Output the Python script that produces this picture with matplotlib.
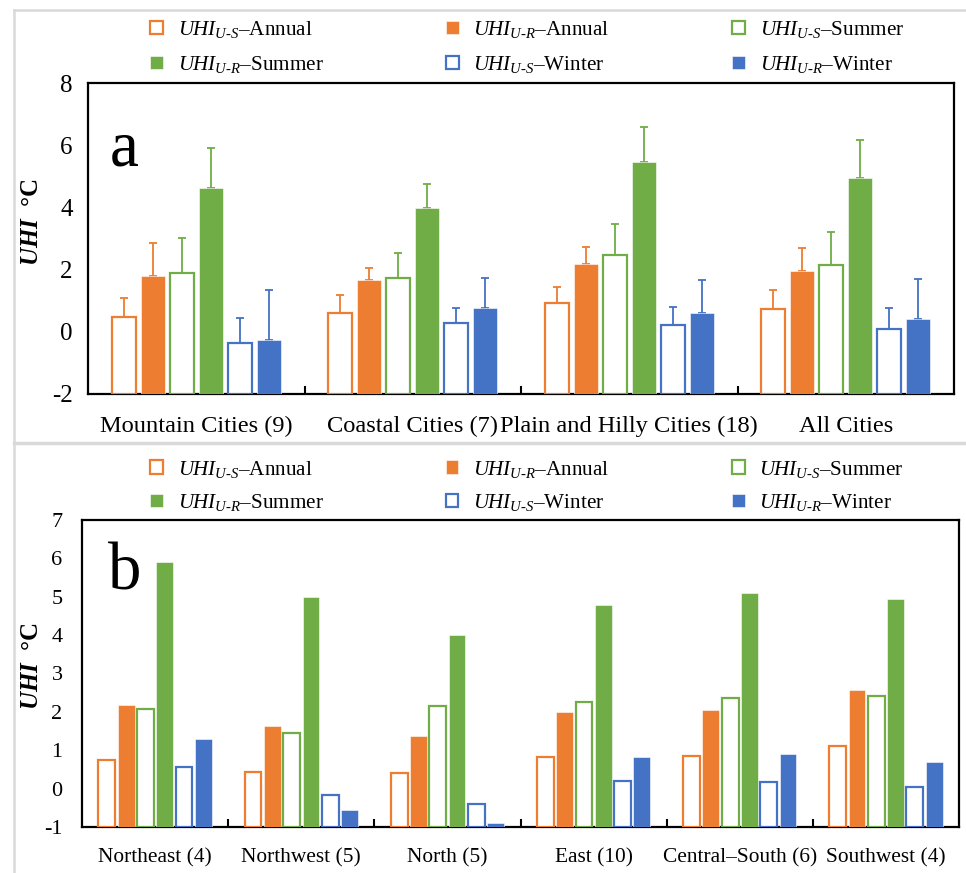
import matplotlib
matplotlib.use('Agg')
import matplotlib.pyplot as plt
from matplotlib.lines import Line2D
import numpy as np

plt.rcParams['font.family'] = ['Liberation Serif', 'DejaVu Serif']
plt.rcParams['mathtext.fontset'] = 'custom'
plt.rcParams['mathtext.rm'] = 'Liberation Serif'
plt.rcParams['mathtext.it'] = 'Liberation Serif:italic'
plt.rcParams['mathtext.bf'] = 'Liberation Serif:bold'
plt.rcParams['mathtext.bfit'] = 'Liberation Serif:bold:italic'
plt.rcParams['axes.unicode_minus'] = False

# ---- data ----
series_labels = [
    r'$UHI_{U\text{-}S}$–Annual', r'$UHI_{U\text{-}R}$–Annual',
    r'$UHI_{U\text{-}S}$–Summer', r'$UHI_{U\text{-}R}$–Summer',
    r'$UHI_{U\text{-}S}$–Winter', r'$UHI_{U\text{-}R}$–Winter',
]

cats_a = ['Mountain Cities (9)', 'Coastal Cities (7)', 'Plain and Hilly Cities (18)', 'All Cities']
# one row per series, one column per category
vals_a = [
    [0.48, 0.59, 0.93, 0.74],
    [1.79, 1.67, 2.17, 1.95],
    [1.90, 1.72, 2.47, 2.15],
    [4.61, 3.99, 5.45, 4.93],
    [-0.35, 0.29, 0.22, 0.08],
    [-0.27, 0.77, 0.60, 0.42],
]
# top of the (one-sided) error bar
errtop_a = [
    [1.09, 1.19, 1.43, 1.34],
    [2.87, 2.04, 2.73, 2.70],
    [3.03, 2.52, 3.46, 3.22],
    [5.90, 4.74, 6.58, 6.17],
    [0.45, 0.75, 0.80, 0.76],
    [1.34, 1.74, 1.66, 1.69],
]

cats_b = ['Northeast (4)', 'Northwest (5)', 'North (5)', 'East (10)', 'Central–South (6)', 'Southwest (4)']
vals_b = [
    [0.74, 0.43, 0.41, 0.82, 0.86, 1.10],
    [2.19, 1.63, 1.36, 2.00, 2.06, 2.58],
    [2.08, 1.45, 2.15, 2.26, 2.36, 2.42],
    [5.90, 4.99, 4.01, 4.78, 5.10, 4.95],
    [0.56, -0.17, -0.39, 0.21, 0.17, 0.03],
    [1.29, -0.55, -0.90, 0.82, 0.89, 0.69],
]

colors = ['#ED7D31', '#ED7D31', '#70AD47', '#70AD47', '#4472C4', '#4472C4']
hollow = [True, False, True, False, True, False]


def draw_bars(ax, cats, vals, errtop=None, width=0.11, pitch=0.134):
    x = np.arange(len(cats))
    y0 = ax.get_ylim()[0]
    handles = []
    for i, v in enumerate(vals):
        pos = x + (i - 2.5) * pitch
        v = np.array(v)
        if hollow[i]:
            h = ax.bar(pos, v - y0, width, bottom=y0,
                       facecolor='white', edgecolor=colors[i], linewidth=1.6, zorder=3)
        else:
            h = ax.bar(pos, v - y0, width, bottom=y0,
                       facecolor=colors[i], edgecolor='white', linewidth=0.4, zorder=3)
        if errtop is not None:
            up = np.array(errtop[i]) - v
            ax.errorbar(pos, v, yerr=[np.zeros_like(up), up], fmt='none',
                        ecolor=colors[i], elinewidth=1.3, capsize=2.7, capthick=1.3, zorder=2)
        handles.append(h)
    ax.set_xlim(-0.5, len(cats) - 0.5)
    ax.set_xticks(x)
    ax.set_xticklabels(cats)
    ax.set_xticks(np.arange(1, len(cats)) - 0.5, minor=True)
    ax.tick_params(axis='x', which='major', length=0)
    ax.tick_params(axis='x', which='minor', direction='in', length=6, width=1.5)
    ax.tick_params(axis='y', length=0)
    for s in ax.spines.values():
        s.set_linewidth(1.6)
    return handles


fig = plt.figure(figsize=(9.66, 8.73), dpi=100)

# panel a
ax_a = fig.add_axes([0.0911, 0.5487, 0.8965, 0.3562])
ax_a.set_ylim(-2, 8)
ax_a.set_yticks(np.arange(-2, 9, 2))
ha = draw_bars(ax_a, cats_a, vals_a, errtop_a)
ax_a.tick_params(axis='x', labelsize=17.6, pad=16)
ax_a.tick_params(axis='y', labelsize=18, pad=11)
ax_a.text(0.025, 0.735, 'a', transform=ax_a.transAxes, fontsize=47, va='baseline')

# panel b
ax_b = fig.add_axes([0.0849, 0.0527, 0.9079, 0.3517])
ax_b.set_ylim(-1, 7)
ax_b.set_yticks(np.arange(-1, 8, 1))
hb = draw_bars(ax_b, cats_b, vals_b, width=0.115, pitch=0.132)
ax_b.tick_params(axis='x', labelsize=15.4, pad=15)
ax_b.tick_params(axis='y', labelsize=16, pad=14)
ax_b.text(0.029, 0.775, 'b', transform=ax_b.transAxes, fontsize=48, va='baseline')

# legends, filled row by row
order = [0, 3, 1, 4, 2, 5]
for ax, hs, x0, y0, ls in [(ax_a, ha, 0.05, 1.268, 0.68), (ax_b, hb, 0.056, 1.262, 0.58)]:
    ax.legend([hs[k] for k in order], [series_labels[k] for k in order], ncol=3,
              loc='upper left', bbox_to_anchor=(x0, y0), frameon=False,
              fontsize=15.2, handlelength=0.6, handleheight=0.6, handletextpad=0.7,
              columnspacing=5.8, labelspacing=ls)

# y labels
fig.text(0.033, 1 - 222 / 873, r'$\mathbfit{UHI}$  °C', rotation=90, fontsize=18,
         fontweight='bold', ha='center', va='center')
fig.text(0.033, 1 - 666 / 873, r'$\mathbfit{UHI}$  °C', rotation=90, fontsize=18,
         fontweight='bold', ha='center', va='center')

# light gray panel frame lines
gray = '#D9D9D9'
fig.add_artist(Line2D([14 / 966, 1], [1 - 10 / 873, 1 - 10 / 873], color=gray, lw=1.8))
fig.add_artist(Line2D([14 / 966, 14 / 966], [0, 1 - 10 / 873], color=gray, lw=1.8))
fig.add_artist(Line2D([14 / 966, 1], [1 - 443 / 873, 1 - 443 / 873], color=gray, lw=2.5))

fig.savefig('out.png', dpi=100)
